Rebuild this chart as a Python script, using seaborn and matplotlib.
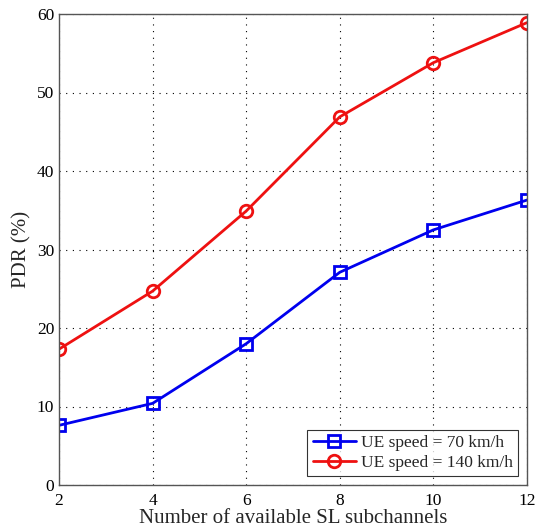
import numpy as np
import pandas as pd
import matplotlib
matplotlib.use("Agg")
import matplotlib.pyplot as plt
import seaborn as sns

subchannels = [2, 4, 6, 8, 10, 12]
pdr_70 = [7.6, 10.4, 18.0, 27.1, 32.5, 36.3]
pdr_140 = [17.3, 24.7, 34.9, 46.9, 53.8, 58.9]
labels = ["UE speed = 70 km/h", "UE speed = 140 km/h"]

df = pd.DataFrame({
    "x": subchannels * 2,
    "y": pdr_70 + pdr_140,
    "series": [labels[0]] * 6 + [labels[1]] * 6,
})

sns.set_style("white")
plt.rcParams["font.family"] = ["Liberation Serif", "DejaVu Serif"]

fig = plt.figure(figsize=(5.38, 5.27), dpi=100)
ax = fig.add_axes([59 / 538, 1 - 485 / 527, 468 / 538, 471 / 527])

sns.lineplot(data=df, x="x", y="y", hue="series", style="series",
             palette=["#0000ee", "#ee1111"], markers=["s", "o"], dashes=False,
             markersize=9, markerfacecolor="none", markeredgewidth=2,
             linewidth=2, ax=ax)
for line in ax.lines:
    line.set_markeredgecolor(line.get_color())

ax.set_xlim(2, 12)
ax.set_ylim(0, 60)
ax.set_xticks(subchannels)
ax.set_yticks(np.arange(0, 61, 10))
ax.grid(True, linestyle=(0, (1, 5)), color="black", linewidth=0.8)
for s in ax.spines.values():
    s.set_color("#555555")
    s.set_linewidth(1)
ax.tick_params(direction="in", length=4, labelsize=12.5, colors="black")
ax.tick_params(axis="x", pad=6)
ax.set_xlabel("Number of available SL subchannels", fontsize=15, labelpad=0)
ax.set_ylabel("PDR (%)", fontsize=15, labelpad=4)

leg = ax.legend(loc="lower right", fontsize=12.5, frameon=True, fancybox=False,
                edgecolor="black", handlelength=2.5, borderaxespad=0.5,
                handletextpad=0.3, borderpad=0.3, labelspacing=0.2)
leg.get_frame().set_linewidth(0.8)
for h in leg.legend_handles:
    h.set_markerfacecolor("none")
    h.set_markeredgecolor(h.get_color())
    h.set_markeredgewidth(2)

fig.savefig("out.png", dpi=100)
